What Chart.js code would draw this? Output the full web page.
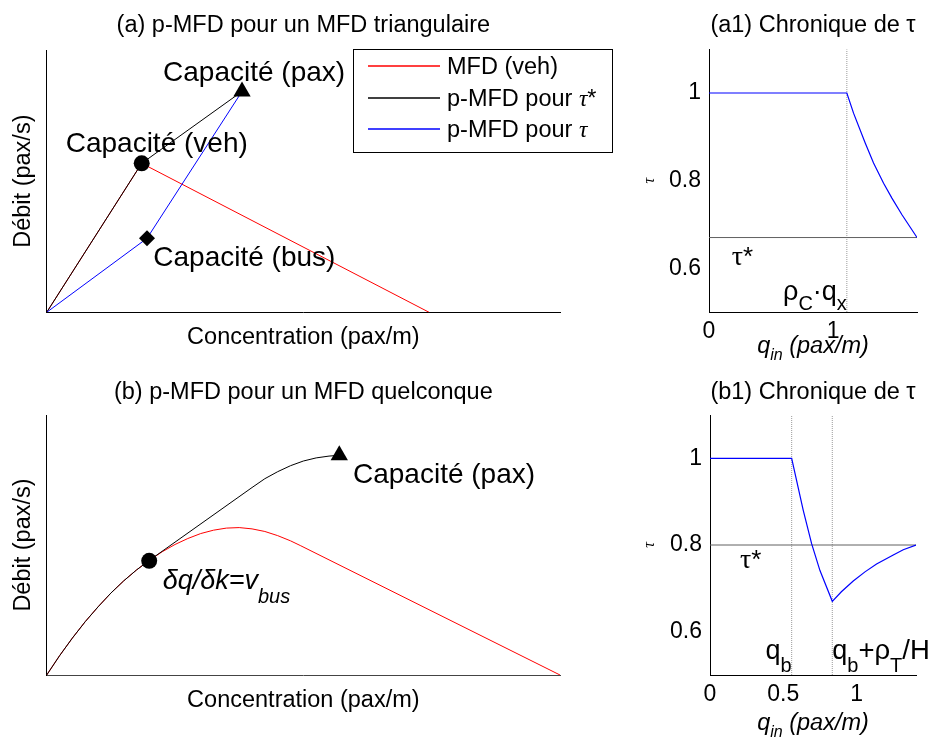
<!DOCTYPE html>
<html>
<head>
<meta charset="utf-8">
<script src="https://cdn.jsdelivr.net/npm/chart.js@4.4.1/dist/chart.umd.min.js"></script>
<style>
  body { margin: 0; background: #fff; width: 936px; height: 745px; position: relative; overflow: hidden; }
  canvas { position: absolute; }
</style>
</head>
<body>
<canvas id="chartA" width="640" height="370" style="left:0;top:0"></canvas>
<canvas id="chartA1" width="296" height="370" style="left:640px;top:0"></canvas>
<canvas id="chartB" width="640" height="375" style="left:0;top:370px"></canvas>
<canvas id="chartB1" width="296" height="375" style="left:640px;top:370px"></canvas>
<script>
// (a) triangular MFD
const redAX = [0, 1.851, 7.45];
const redAY = [0, 5.68, 0];
const blackAX = [0, 1.851, 3.805];
const blackAY = [0, 5.68, 8.42];
const blueAX = [0, 1.954, 3.805];
const blueAY = [0, 2.82, 8.42];
const pointsAX = [1.851, 3.805, 1.954]; // capacité veh, pax, bus
const pointsAY = [5.68, 8.42, 2.82];

// (b) generic MFD
const redBX = [0, 0.25, 0.5, 0.75, 1.0, 1.25, 1.5, 1.75, 2.0, 2.25, 2.5, 2.75, 3.0, 3.25, 3.5, 3.75, 4.0, 4.25, 4.5, 4.75, 4.95, 10];
const redBY = [0, 0.74, 1.42, 2.05, 2.62, 3.15, 3.62, 4.04, 4.41, 4.74, 5.02, 5.25, 5.44, 5.57, 5.65, 5.67, 5.62, 5.52, 5.36, 5.16, 4.97, 0];
const blackBX = [0, 0.25, 0.5, 0.75, 1.0, 1.25, 1.5, 1.75, 2.0, 4.0, 4.25, 4.5, 4.75, 5.0, 5.25, 5.5, 5.7];
const blackBY = [0, 0.74, 1.42, 2.05, 2.62, 3.15, 3.62, 4.04, 4.41, 7.21, 7.55, 7.82, 8.05, 8.23, 8.35, 8.42, 8.45];
const pointsBX = [1.997, 5.7]; // tangent point, capacité pax
const pointsBY = [4.39, 8.45];

// (a1) tau versus q_in
const qA1 = [0, 1.11, 1.164, 1.258, 1.325, 1.406, 1.473, 1.554, 1.675];
const tauA1 = [1, 1, 0.954, 0.886, 0.840, 0.794, 0.760, 0.722, 0.67];
const tauStarA1 = 0.67;
const qxA1 = 1.11;
const xMaxA1 = 1.675;
const xTicksA1 = [0, 1];
const xTickLabelsA1 = ['0', '1'];

// (b1) tau versus q_in
const qB1 = [0, 0.557, 0.636, 0.693, 0.750, 0.834, 0.896, 0.977, 1.057, 1.136, 1.25, 1.318, 1.405];
const tauB1 = [1, 1, 0.880, 0.803, 0.741, 0.670, 0.692, 0.717, 0.738, 0.756, 0.777, 0.789, 0.80];
const tauStarB1 = 0.8;
const qbB1 = 0.557;
const qbHB1 = 0.834;
const xMaxB1 = 1.405;
const xTicksB1 = [0, 0.5, 1];
const xTickLabelsB1 = ['0', '0.5', '1'];

const tauRange = [0.5, 1.1];
const yTicksTau = [0.6, 0.8, 1];
const yTickLabelsTau = ['0.6', '0.8', '1'];

const SANS = '"Liberation Sans", Arial, sans-serif';
const SERIF = '"Liberation Serif", "DejaVu Serif", serif';
const F = (size, style = '', fam = SANS) => `${style} ${size}px ${fam}`;

Chart.defaults.font.family = SANS;
Chart.defaults.color = '#000';

const pts = (xs, ys) => xs.map((x, i) => ({ x, y: ys[i] }));

function line(label, xs, ys, color, extra) {
  return Object.assign({ label, data: pts(xs, ys), showLine: true, borderColor: color, borderWidth: 1, pointRadius: 0, fill: false }, extra);
}

function drawRich(ctx, parts, x, y, align) {
  let w = 0;
  parts.forEach((p) => { ctx.font = p[1]; w += ctx.measureText(p[0]).width; });
  let cx = align === 'right' ? x - w : align === 'center' ? x - w / 2 : x;
  ctx.textAlign = 'left';
  ctx.textBaseline = 'alphabetic';
  parts.forEach((p) => {
    ctx.font = p[1];
    ctx.fillText(p[0], cx, y + (p[2] || 0));
    cx += ctx.measureText(p[0]).width;
  });
}

// annotations given in data units, plus optional extra drawing
function notes(items, extra) {
  return {
    id: 'notes',
    afterDraw(chart) {
      const { ctx, scales: { x, y } } = chart;
      ctx.save();
      ctx.fillStyle = '#000';
      items.forEach((n) => drawRich(ctx, n.parts, x.getPixelForValue(n.x), y.getPixelForValue(n.y), n.align));
      if (extra) extra(chart, ctx);
      ctx.restore();
    },
  };
}

function plainAxis(min, max, title, pad, size, color) {
  return {
    type: 'linear', min, max,
    grid: { display: false, drawTicks: false },
    border: { display: true, color: color || '#000', width: 1 },
    ticks: { display: false },
    title: { display: true, text: title, font: { size: 23.5 }, padding: pad },
    afterFit: (s) => { if (s.isHorizontal()) s.height = size; else s.width = size; },
  };
}

function tauAxisY(width) {
  return {
    type: 'linear', min: tauRange[0], max: tauRange[1],
    grid: { display: false, drawTicks: false },
    border: { display: true, color: '#000', width: 1 },
    afterBuildTicks: (s) => { s.ticks = yTicksTau.map((v) => ({ value: v })); },
    ticks: { font: { size: 23 }, padding: 8, callback: (v, i) => yTickLabelsTau[i] },
    title: { display: true, text: 'τ', font: { family: SERIF, size: 16, style: 'italic' }, padding: { top: 0, bottom: 0 } },
    afterFit: (s) => { s.width = width; },
  };
}

function tauAxisX(max, ticks, labels, height) {
  return {
    type: 'linear', min: 0, max,
    grid: { display: false, drawTicks: false },
    border: { display: true, color: '#000', width: 1 },
    afterBuildTicks: (s) => { s.ticks = ticks.map((v) => ({ value: v })); },
    ticks: { font: { size: 23 }, padding: 6, maxRotation: 0, callback: (v, i) => labels[i] },
    afterFit: (s) => { s.height = height; },
  };
}

function titleOpts(text, top, bottom) {
  return { display: true, text, fullSize: false, font: { size: 23.5, weight: 'normal' }, padding: { top, bottom } };
}

const baseOptions = {
  responsive: false,
  animation: false,
  devicePixelRatio: 1,
  events: [],
};

// ---------- (a) ----------
const legendA = [
  { color: 'rgb(255,0,0)', parts: [['MFD (veh)', F(23.5)]] },
  { color: 'rgb(0,0,0)', parts: [['p-MFD pour ', F(23.5)], ['τ', F(23.5, 'italic', SERIF)], ['*', F(23.5)]] },
  { color: 'rgb(0,0,255)', parts: [['p-MFD pour ', F(23.5)], ['τ', F(23.5, 'italic', SERIF)]] },
];

function drawLegendA(chart, ctx) {
  const ca = chart.chartArea;
  const left = Math.round(ca.right - 207), top = Math.round(ca.top - 1);
  ctx.fillStyle = '#fff';
  ctx.fillRect(left, top, 259, 103);
  ctx.strokeStyle = '#000';
  ctx.lineWidth = 1;
  ctx.strokeRect(left + 0.5, top + 0.5, 259, 103);
  legendA.forEach((e, i) => {
    const yy = Math.round(top + 17 + i * 31.7);
    ctx.beginPath();
    ctx.strokeStyle = e.color;
    ctx.lineWidth = 1.3;
    ctx.moveTo(left + 15, yy);
    ctx.lineTo(left + 87, yy);
    ctx.stroke();
    ctx.fillStyle = '#000';
    drawRich(ctx, e.parts, left + 94, yy + 8, 'left');
  });
}

new Chart(document.getElementById('chartA'), {
  type: 'scatter',
  data: {
    datasets: [
      { label: 'points', data: pts(pointsAX, pointsAY), pointStyle: ['circle', 'triangle', 'rectRot'], pointRadius: [8, 10, 8],
        backgroundColor: '#000', borderColor: '#000', borderWidth: 0, clip: false },
      line('p-MFD pour τ', blueAX, blueAY, '#0000ff'),
      line('p-MFD pour τ*', blackAX, blackAY, '#000000'),
      line('MFD (veh)', redAX, redAY, '#ff0000'),
    ],
  },
  options: Object.assign({}, baseOptions, {
    layout: { padding: { left: 0, top: 0, right: 80, bottom: 0 } },
    plugins: { legend: { display: false }, tooltip: { enabled: false }, title: titleOpts('(a) p-MFD pour un MFD triangulaire', 11, 10.8) },
    scales: {
      x: plainAxis(0, 10, 'Concentration (pax/m)', { top: 0, bottom: 18.5 }, 57.7),
      y: plainAxis(0, 10, 'Débit (pax/s)', { top: 9.5, bottom: 0 }, 46.7),
    },
  }),
  plugins: [notes([
    { x: 2.266, y: 8.82, parts: [['Capacité (pax)', F(28)]] },
    { x: 0.370, y: 6.12, parts: [['Capacité (veh)', F(28)]] },
    { x: 2.077, y: 1.78, parts: [['Capacité (bus)', F(28)]] },
  ], drawLegendA)],
});

// ---------- (b) ----------
new Chart(document.getElementById('chartB'), {
  type: 'scatter',
  data: {
    datasets: [
      { label: 'points', data: pts(pointsBX, pointsBY), pointStyle: ['circle', 'triangle'], pointRadius: [8, 10],
        backgroundColor: '#000', borderColor: '#000', borderWidth: 0, clip: false },
      line('p-MFD', blackBX, blackBY, '#000000'),
      line('MFD', redBX, redBY, '#ff0000'),
    ],
  },
  options: Object.assign({}, baseOptions, {
    layout: { padding: { left: 0, top: 0, right: 80, bottom: 0 } },
    plugins: { legend: { display: false }, tooltip: { enabled: false }, title: titleOpts('(b) p-MFD pour un MFD quelconque', 8.4, 8.4) },
    scales: {
      x: plainAxis(0, 10, 'Concentration (pax/m)', { top: 0, bottom: 30.5 }, 70, '#444'),
      y: plainAxis(0, 10, 'Débit (pax/s)', { top: 9.5, bottom: 0 }, 46.7),
    },
  }),
  plugins: [notes([
    { x: 5.967, y: 7.38, parts: [['Capacité (pax)', F(28)]] },
    { x: 2.26, y: 3.31, parts: [['δq/δk=v', F(27, 'italic')], ['bus', F(20, 'italic'), 14]] },
  ])],
});

function qinTitle(offset) {
  return (chart, ctx) => {
    const ca = chart.chartArea;
    drawRich(ctx, [['q', F(23.5, 'italic')], ['in', F(16, 'italic'), 7], [' (pax/m)', F(23.5, 'italic')]],
      (ca.left + ca.right) / 2, ca.bottom + offset, 'center');
  };
}

// ---------- (a1) ----------
new Chart(document.getElementById('chartA1'), {
  type: 'scatter',
  data: {
    datasets: [
      line('tau', qA1, tauA1, '#0000ff', { borderWidth: 1.2 }),
      line('tau*', [0, xMaxA1], [tauStarA1, tauStarA1], '#606060'),
      line('rhoC.qx', [qxA1, qxA1], tauRange, '#9a9a9a', { borderDash: [1, 1] }),
    ],
  },
  options: Object.assign({}, baseOptions, {
    layout: { padding: { left: 0, top: 0, right: 19, bottom: 0 } },
    plugins: { legend: { display: false }, tooltip: { enabled: false }, title: titleOpts('(a1) Chronique de τ', 11.4, 9.6) },
    scales: {
      x: tauAxisX(xMaxA1, xTicksA1, xTickLabelsA1, 58),
      y: tauAxisY(69),
    },
  }),
  plugins: [notes([
    { x: 0.183, y: 0.6076, parts: [['τ', F(28, '', SERIF)], ['*', F(26)]] },
    { x: qxA1, y: 0.5275, align: 'right', parts: [['ρ', F(27)], ['C', F(20), 10], ['·q', F(27)], ['x', F(20), 10]] },
  ], qinTitle(41))],
});

// ---------- (b1) ----------
new Chart(document.getElementById('chartB1'), {
  type: 'scatter',
  data: {
    datasets: [
      line('tau', qB1, tauB1, '#0000ff', { borderWidth: 1.2 }),
      line('tau*', [0, xMaxB1], [tauStarB1, tauStarB1], '#606060'),
      line('qb', [qbB1, qbB1], tauRange, '#9a9a9a', { borderDash: [1, 1] }),
      line('qb+rhoT/H', [qbHB1, qbHB1], tauRange, '#9a9a9a', { borderDash: [1, 1] }),
    ],
  },
  options: Object.assign({}, baseOptions, {
    layout: { padding: { left: 0, top: 0, right: 20, bottom: 0 } },
    plugins: { legend: { display: false }, tooltip: { enabled: false }, title: titleOpts('(b1) Chronique de τ', 8.4, 8.4) },
    scales: {
      x: tauAxisX(xMaxB1, xTicksB1, xTickLabelsB1, 70),
      y: tauAxisY(70),
    },
  }),
  plugins: [notes([
    { x: 0.2045, y: 0.748, parts: [['τ', F(28, '', SERIF)], ['*', F(26)]] },
    { x: qbB1, y: 0.5367, align: 'right', parts: [['q', F(27)], ['b', F(20), 13]] },
    { x: qbHB1, y: 0.5367, parts: [['q', F(27)], ['b', F(20), 13], ['+ρ', F(27.5)], ['T', F(20), 13], ['/H', F(27.5)]] },
  ], qinTitle(55))],
});
</script>
</body>
</html>
